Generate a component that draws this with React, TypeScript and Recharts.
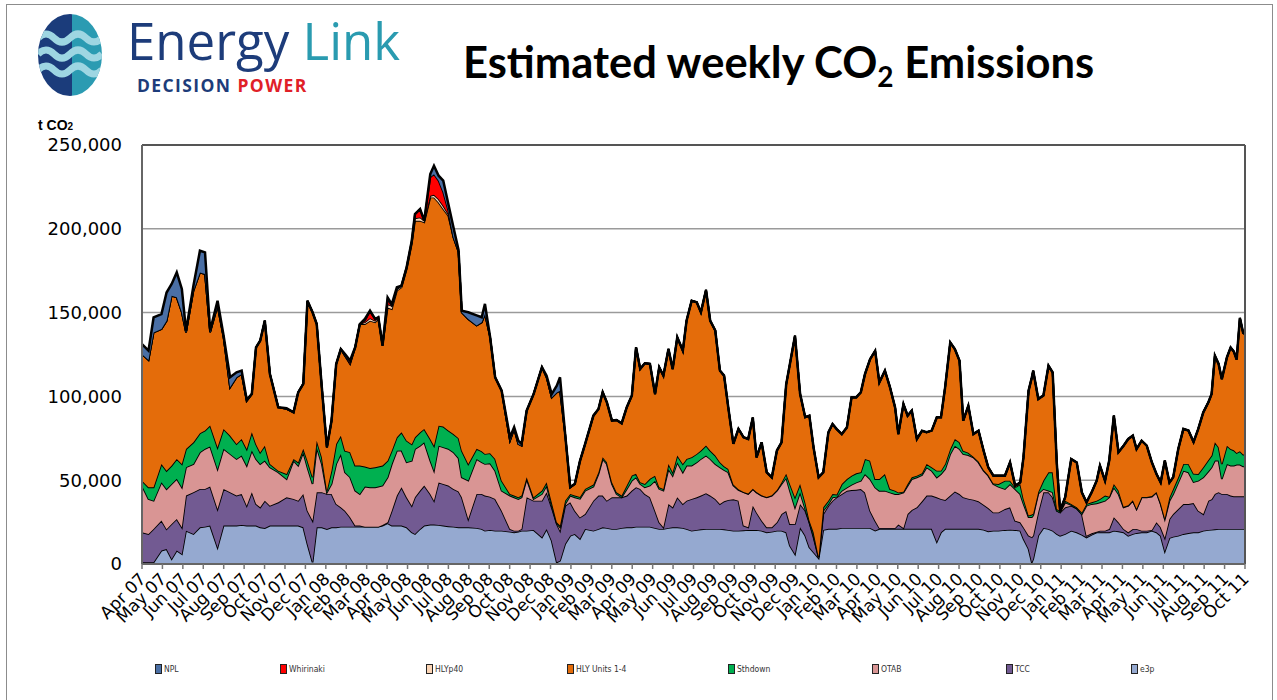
import React from 'react';
import { AreaChart, Area, XAxis, YAxis, CartesianGrid, ReferenceLine } from 'recharts';

// ---- Categories: week position since start of Apr 2007 ----
const weeks = [
  0, 1.4, 2.5, 4.2, 5.3, 6.4, 7.5, 8.6, 9.5, 11.1,
  12.5, 13.6, 14.7, 16.3, 17.6, 19.0, 20.4, 21.5, 22.6, 23.7,
  24.6, 25.5, 26.5, 27.6, 29.4, 31.2, 32.7, 33.7, 34.8, 35.7,
  36.8, 37.7, 38.8, 39.9, 40.9, 41.9, 42.9, 43.8, 44.9, 46.0,
  47.0,
  48.1, 49.2, 50.3, 51.0, 51.9, 53.0, 53.9, 55.0, 56.0, 57.1,
  58.2, 58.9, 60.0, 60.9, 62.2, 63.0, 64.0, 65.0, 66.1, 67.2,
  68.3, 69.0, 70.4, 72.2, 73.3, 74.0, 75.1, 76.2, 77.6, 79.4,
  80.3, 81.2, 81.9, 83.0, 84.5, 86.3, 87.3, 88.4, 89.5, 90.2,
  91.3, 92.4, 93.4, 94.5,
  95.6, 97.4, 98.5, 99.4, 100.3, 101.4, 102.4, 103.5, 104.6, 105.7,
  106.6, 107.5, 108.5, 109.6, 110.7, 111.6, 112.5, 113.6, 114.5, 115.5,
  116.7, 117.5, 118.6, 119.7, 120.6, 121.7, 122.6, 123.7, 124.7, 125.6,
  126.5, 127.6, 128.7, 129.8, 130.8, 131.8, 132.6, 133.7, 134.8, 135.9,
  137.0, 138.0, 139.0, 139.8, 140.9, 142.0,
  143.1, 144.0, 144.9, 146.0, 147.0, 148.1, 149.0, 149.9, 151.0, 152.1,
  153.1, 154.1, 155.1, 156.0, 157.1, 158.2, 159.1, 160.3, 161.4, 162.5,
  163.2, 164.3, 165.2, 166.1, 167.2, 168.3, 169.3, 170.4, 171.5, 172.4,
  173.3, 174.4, 175.4, 176.4, 177.2, 178.3, 179.4, 180.5, 181.6, 182.6,
  183.7, 184.8, 186.2, 187.3, 188.4, 189.5,
  190.2, 191.3, 192.0, 192.3, 193.4, 194.5, 195.6, 196.5, 197.4, 198.1,
  199.2, 200.5, 201.7, 202.8, 203.8, 204.9, 206.0, 206.7, 207.8, 208.7,
  209.7, 210.7, 211.8, 212.8, 213.8, 214.6, 215.7, 216.8, 217.9, 218.9,
  219.8, 220.7, 221.7, 222.5, 223.6, 224.7, 225.8, 226.9, 227.9, 229.0,
  230.1, 230.8, 231.5, 232.3, 233.0, 234.1, 234.9, 235.6, 236.2, 236.9,
  237.6, 238.0,
];

// ---- Tick labels ----
const monthLabels = [
  'Apr 07', 'May 07', 'Jun 07', 'Jul 07', 'Aug 07', 'Sep 07', 'Oct 07', 'Nov 07', 'Dec 07',
  'Jan 08', 'Feb 08', 'Mar 08', 'Apr 08', 'May 08', 'Jun 08', 'Jul 08', 'Aug 08', 'Sep 08', 'Oct 08', 'Nov 08', 'Dec 08',
  'Jan 09', 'Feb 09', 'Mar 09', 'Apr 09', 'May 09', 'Jun 09', 'Jul 09', 'Aug 09', 'Sep 09', 'Oct 09', 'Nov 09', 'Dec 09',
  'Jan 10', 'Feb 10', 'Mar 10', 'Apr 10', 'May 10', 'Jun 10', 'Jul 10', 'Aug 10', 'Sep 10', 'Oct 10', 'Nov 10', 'Dec 10',
  'Jan 11', 'Feb 11', 'Mar 11', 'Apr 11', 'May 11', 'Jun 11', 'Jul 11', 'Aug 11', 'Sep 11', 'Oct 11',
];
const yTicks = [0, 50000, 100000, 150000, 200000, 250000];

// ---- Series values (t CO2 per week) ----
const e3p = [
  1000, 1000, 1000, 8000, 8900, 3000, 8000, 6000, 19900, 17900,
  21900, 22300, 22900, 9900, 22900, 22900, 22900, 23300, 22900, 22900,
  22900, 21900, 21500, 22900, 22900, 22900, 22900, 22900, 21900, 11900,
  1000, 21900, 21900, 20900, 21900, 21900, 22300, 22300, 22300, 22300,
  22300,
  22300, 22300, 22300, 22300, 22900, 24300, 22900, 22900, 22900, 21900,
  18900, 17900, 20900, 22900, 23500, 23500, 23300, 22900, 22500, 22300,
  21900, 21900, 21900, 21500, 20900, 19900, 20300, 19900, 19900, 19300,
  18900, 19300, 19900, 19900, 20300, 15900, 20900, 13900, 1000, 2000,
  11900, 16900, 17900, 15000,
  20900, 19900, 20900, 21900, 21500, 20900, 20900, 21500, 21900, 21900,
  22300, 22300, 22300, 22300, 21500, 20900, 20900, 21500, 21900, 21900,
  21500, 20900, 19900, 20300, 20700, 20900, 20900, 20900, 20900, 20700,
  20300, 19900, 19900, 20100, 20300, 20300, 20300, 19900, 18900, 19300,
  19900, 19900, 18900, 10900, 6000, 21900,
  17000, 10000, 7000, 3500, 20300, 21000, 21000, 21000, 21500, 21500,
  21500, 21500, 21500, 21500, 21500, 20000, 21000, 21000, 21000, 21000,
  21000, 21000, 21000, 21000, 21000, 21000, 21000, 21000, 13300, 18900,
  21000, 21000, 21000, 21000, 21000, 21000, 21000, 21000, 20500, 19500,
  19900, 19900, 20300, 20500, 20300, 19900,
  15000, 9000, 1000, 3000, 17000, 21500, 20900, 19900, 17900, 16900,
  17900, 19900, 18900, 17500, 15900, 17500, 18900, 18900, 18900, 18900,
  19900, 19500, 18900, 16900, 17900, 18500, 18900, 18900, 19900, 18900,
  16900, 7600, 15500, 16300, 16900, 17900, 18500, 18900, 18900, 19900,
  20300, 20500, 20700, 20900, 20900, 20900, 20900, 20900, 20900, 20900,
  20900, 20900,
];

const tcc = [
  17900, 16900, 19900, 17900, 11900, 20900, 18900, 15900, 20900, 24900,
  22900, 22500, 23300, 22900, 21900, 19900, 17900, 18500, 11900, 19900,
  12900, 11900, 16300, 11900, 13900, 16900, 15900, 14900, 19900, 19900,
  24900, 20900, 20900, 20900, 19900, 13900, 11500, 9500, 5600, 600,
  600,
  0, 0, 0, 0, 400, 600, 8900, 17900, 22900, 17900,
  15900, 21900, 22900, 23900, 18300, 14300, 25400, 24900, 24300, 22500,
  21400, 17900, 5000, 20300, 20900, 20900, 19900, 18900, 11900, 1600,
  1000, 600, 1000, 19900, 17500, 21900, 21900, 19900, 22900, 17900,
  22900, 19900, 13900, 12800,
  8900, 17900, 19900, 18900, 16300, 18900, 18900, 18300, 18900, 21900,
  23500, 22500, 19500, 17500, 10300, 4000, 1000, 14300, 11900, 17900,
  14300, 16900, 18900, 19500, 20100, 21300, 19900, 17900, 14900, 16700,
  17900, 18700, 17900, 2800, 1600, 14500, 10500, 6000, 3000, 2600,
  5000, 9900, 12700, 12900, 17900, 13900,
  14900, 14900, 8900, 500, 9500, 13800, 16800, 18800, 20200, 22200,
  22600, 22800, 23200, 21200, 10300, 5800, 500, 500, 500, 500,
  2500, 500, 8800, 11200, 12800, 16400, 19800, 19800, 26500, 19900,
  17200, 19800, 22300, 20700, 18800, 18000, 17400, 16400, 14900, 13900,
  10900, 10900, 12500, 13300, 5500, 5000,
  7000, 8000, 15000, 14000, 14000, 21300, 21900, 19900, 13900, 13900,
  15900, 14900, 14300, 12300, 1000, 800, 400, 1000, 1000, 2000,
  8000, 5400, 2000, 2000, 3000, 2400, 1000, 1000, 400, 6000,
  5000, 8000, 11300, 13500, 15900, 17900, 17300, 17500, 12900, 9900,
  17500, 18100, 21100, 21900, 20900, 20900, 19900, 19500, 19500, 19500,
  19500, 19500,
];

const otab = [
  27800, 20900, 16900, 22900, 23900, 23900, 23900, 23900, 16900, 16900,
  21900, 23900, 23900, 23900, 23900, 22900, 21900, 22900, 23900, 24900,
  26800, 25800, 23900, 22900, 17900, 10900, 22900, 20900, 24900, 25800,
  21900, 26800, 16900, 1000, 6000, 23900, 31800, 22900, 23900, 20900,
  18900,
  23900, 23500, 23500, 23900, 23500, 26800, 27800, 26800, 21900, 20900,
  26800, 28800, 26800, 25800, 19900, 17900, 21900, 21900, 21900, 21900,
  19900, 11900, 22900, 20900, 18900, 18900, 19900, 16900, 11900, 19900,
  19900, 18900, 18900, 10900, 1000, 4000, 4000, 1000, 400, 2000,
  1000, 4000, 8000, 11200,
  13900, 8400, 12900, 21900, 21900, 8000, 2000, 0, 4000, 6000,
  6000, 3000, 4000, 7000, 17900, 19900, 21900, 20900, 18900, 20900,
  18900, 20900, 19900, 20900, 21900, 22500, 21900, 20900, 21900, 18700,
  16500, 8200, 6400, 19900, 19900, 9900, 11900, 14900, 17900, 18900,
  18900, 17900, 19900, 19900, 9900, 7000,
  1000, 0, 1000, 200, 2000, 1000, 2000, 400, 2000, 2000,
  3200, 4400, 5000, 11000, 18900, 19900, 22200, 22200, 21200, 20200,
  18200, 21200, 16900, 18500, 17900, 15700, 16900, 14900, 11900, 14900,
  18500, 24800, 27300, 26900, 25800, 26000, 25200, 23200, 20300, 19300,
  16900, 15300, 11900, 13900, 18900, 16800,
  14000, 11000, 12000, 12000, 11000, 2000, 1000, 3000, 0, 0,
  3000, 400, 0, 0, 17900, 17500, 16900, 16900, 17900, 18900,
  17900, 16900, 12900, 15900, 16900, 11900, 19900, 19900, 19900, 17900,
  13900, 11300, 10900, 11900, 15900, 19900, 18900, 12500, 17900, 21900,
  17500, 19100, 19900, 18900, 8900, 17900, 17900, 18300, 18900, 18900,
  17900, 17900,
];

const sthdown = [
  3000, 7000, 8000, 10900, 10900, 10900, 11900, 13900, 10900, 12900,
  11300, 10900, 12500, 12900, 11900, 10900, 8900, 9900, 9900, 10900,
  8900, 7000, 8900, 2000, 1000, 3000, 1000, 2000, 2000, 4000,
  4000, 4000, 4000, 1000, 8000, 11900, 10900, 12900, 14900, 14900,
  16900,
  11900, 11500, 11900, 11900, 11900, 9900, 8000, 8000, 10900, 12900,
  9900, 7000, 8000, 8000, 12900, 14900, 11900, 12300, 10900, 10900,
  11900, 15900, 9900, 6000, 6600, 6000, 6000, 7000, 6000, 1000,
  1000, 1000, 1000, 1000, 1000, 2000, 2000, 2000, 600, 1000,
  2000, 1000, 1000, 1000,
  1000, 1200, 1000, 1000, 1000, 1000, 1000, 1000, 2000, 3000,
  2000, 1000, 2000, 4000, 3000, 1000, 1000, 3000, 2000, 4000,
  5000, 4000, 5000, 5000, 5000, 6000, 5000, 5000, 3000, 2200,
  2000, 600, 400, 200, 200, 200, 200, 200, 200, 200,
  400, 1000, 2400, 4000, 6000, 5000,
  4000, 1000, 2000, 200, 2000, 2000, 1900, 1200, 4000, 5000,
  5400, 5400, 5000, 9000, 10900, 5000, 7000, 10000, 2000, 2000,
  1000, 400, 1000, 1000, 1000, 1000, 2000, 2000, 4000, 2000,
  3000, 3000, 4000, 4000, 2000, 1400, 400, 600, 400, 400,
  400, 1600, 5000, 2000, 1000, 6000,
  3000, 1000, 1500, 1000, 1000, 5000, 10900, 11900, 1000, 600,
  1000, 600, 600, 1000, 1000, 1000, 1600, 2000, 3000, 400,
  2000, 2000, 400, 200, 200, 200, 200, 200, 400, 200,
  400, 400, 2000, 3000, 3000, 4000, 5000, 5000, 4000, 6000,
  6800, 7000, 10900, 8000, 8900, 10900, 9900, 9100, 7000, 8000,
  7000, 7000,
];

const hlyUnits = [
  75500, 75900, 92400, 80500, 89500, 101400, 96400, 90500, 69600, 90500,
  96000, 93400, 55700, 84500, 54700, 28800, 39800, 38800, 28800, 22900,
  57700, 66600, 74600, 53700, 37800, 38800, 27800, 41700, 38800, 95400,
  98400, 69600, 41700, 25800, 29800, 47700, 51700, 56700, 52700, 70600,
  84500,
  85100, 87900, 86500, 88100, 71600, 91400, 84500, 87500, 86500, 102400,
  119300, 129200, 126200, 123300, 144100, 148100, 133200, 129800, 128200, 117300,
  111300, 82500, 86500, 73600, 76900, 83500, 69600, 48700, 53700, 31800,
  39800, 31800, 29800, 39800, 61600, 73600, 62600, 62600, 77500, 80500,
  39800, 4000, 7000, 21400,
  26800, 41100, 37800, 38800, 35800, 36800, 43100, 43100, 46700, 47700,
  75500, 67600, 72000, 68600, 48700, 71600, 67600, 68600, 61600, 70600,
  67600, 82500, 93400, 90500, 82500, 92800, 77500, 74600, 54700, 54100,
  36800, 24300, 36000, 32600, 32600, 42500, 20700, 31600, 14700, 10700,
  23500, 23900, 53300, 71600, 96400, 53700,
  50700, 62600, 50700, 47300, 20900, 40700, 41800, 39100, 29800, 30800,
  46700, 45300, 47700, 50600, 60600, 76500, 57700, 61600, 60700, 49700,
  34800, 52300, 40800, 39800, 21900, 25400, 18900, 21900, 31800, 31800,
  45800, 63600, 53600, 48700, 17900, 28000, 13500, 18300, 11500, 4600,
  4600, 5000, 3000, 10900, 1000, 1000,
  24600, 74400, 81800, 85300, 55400, 50700, 63600, 59600, 26800, 400,
  2000, 26800, 26800, 11900, 1000, 5900, 11900, 19900, 8900, 21500,
  40800, 22900, 36400, 39600, 38600, 35600, 33600, 30600, 20100, 10700,
  12500, 34400, 8900, 7000, 16900, 20900, 19900, 18900, 26800, 32800,
  34400, 36800, 51700, 49700, 50700, 52700, 60600, 58900, 55700, 79500,
  72600, 72000,
];

const hlyP40 = [
  0, 0, 0, 0, 0, 0, 0, 0, 0, 0,
  0, 0, 0, 0, 0, 0, 0, 0, 0, 0,
  0, 0, 0, 0, 0, 0, 0, 0, 0, 0,
  0, 0, 0, 0, 0, 0, 0, 0, 0, 0,
  0,
  1000, 1500, 1000, 1000, 0, 2000, 2000, 1000, 1000, 1000,
  1000, 1500, 2000, 1000, 1000, 1600, 2000, 2000, 1000, 0,
  0, 0, 0, 0, 0, 0, 0, 0, 0, 0,
  0, 0, 0, 0, 0, 0, 0, 0, 0, 0,
  0, 0, 0, 0,
  0, 0, 0, 0, 0, 0, 0, 0, 0, 0,
  0, 0, 0, 0, 0, 0, 0, 0, 0, 0,
  0, 0, 0, 0, 0, 0, 0, 0, 0, 0,
  0, 0, 0, 0, 0, 0, 0, 0, 0, 0,
  0, 0, 0, 0, 0, 0,
  0, 0, 0, 0, 0, 0, 0, 0, 0, 0,
  0, 0, 0, 0, 0, 0, 0, 0, 0, 0,
  0, 0, 0, 0, 0, 0, 0, 0, 0, 0,
  0, 0, 0, 0, 0, 0, 0, 0, 0, 0,
  0, 0, 0, 0, 0, 0,
  0, 0, 0, 0, 0, 0, 0, 0, 0, 0,
  0, 0, 0, 0, 0, 0, 0, 0, 0, 0,
  0, 0, 0, 0, 0, 0, 0, 0, 0, 0,
  0, 0, 0, 0, 0, 0, 0, 0, 0, 0,
  0, 0, 0, 0, 0, 0, 0, 0, 0, 0,
  0, 0,
];

const whirinaki = [
  0, 0, 0, 0, 0, 0, 0, 0, 0, 0,
  0, 0, 0, 0, 0, 0, 0, 0, 0, 0,
  0, 0, 0, 0, 0, 0, 0, 0, 0, 0,
  0, 0, 0, 0, 0, 0, 0, 0, 1000, 0,
  0,
  1000, 4000, 1000, 0, 0, 3000, 0, 0, 0, 0,
  1000, 2500, 5000, 0, 11000, 12300, 11000, 8000, 2000, 0,
  0, 0, 0, 0, 0, 0, 0, 0, 0, 0,
  0, 0, 0, 0, 0, 0, 0, 0, 0, 0,
  0, 0, 0, 0,
  0, 0, 0, 0, 0, 0, 0, 0, 0, 0,
  0, 0, 0, 0, 0, 0, 0, 0, 0, 0,
  0, 0, 0, 0, 0, 0, 0, 0, 0, 0,
  0, 0, 0, 0, 0, 0, 0, 0, 0, 0,
  0, 0, 0, 0, 0, 0,
  0, 0, 0, 0, 0, 0, 0, 0, 0, 0,
  0, 0, 0, 0, 0, 0, 0, 0, 0, 0,
  0, 0, 0, 0, 0, 0, 0, 0, 0, 0,
  0, 0, 0, 0, 0, 0, 0, 0, 0, 0,
  0, 0, 0, 0, 0, 0,
  0, 0, 0, 0, 0, 0, 0, 0, 0, 0,
  0, 0, 0, 0, 0, 0, 0, 0, 0, 0,
  0, 0, 0, 0, 0, 0, 0, 0, 0, 0,
  0, 0, 0, 0, 0, 0, 0, 0, 0, 0,
  0, 0, 0, 0, 0, 0, 0, 0, 0, 0,
  0, 0,
];

const npl = [
  6000, 5600, 8900, 8900, 16900, 7000, 14900, 13900, 1000, 3000,
  12900, 12900, 1000, 3000, 1000, 6000, 3000, 2000, 400, 0,
  0, 0, 0, 0, 0, 400, 0, 0, 0, 0,
  0, 0, 0, 0, 0, 0, 0, 1000, 1000, 0,
  0,
  1000, 500, 0, 0, 0, 1000, 1000, 1000, 0, 0,
  0, 0, 0, 0, 2000, 5000, 3000, 7000, 4000, 6000,
  1000, 1000, 4000, 6000, 3000, 6000, 0, 0, 0, 2000,
  1000, 2000, 1000, 0, 0, 0, 1000, 2000, 4000, 8000,
  0, 0, 0, 0,
  0, 0, 0, 0, 0, 0, 0, 0, 0, 0,
  0, 0, 0, 0, 0, 0, 0, 0, 0, 0,
  0, 0, 0, 0, 0, 0, 0, 0, 0, 0,
  0, 0, 0, 0, 0, 0, 0, 0, 0, 0,
  0, 0, 0, 0, 0, 0,
  0, 0, 0, 0, 0, 0, 0, 0, 0, 0,
  0, 0, 0, 0, 0, 0, 0, 0, 0, 0,
  0, 0, 0, 0, 0, 0, 0, 0, 0, 0,
  0, 0, 0, 0, 0, 0, 0, 0, 0, 0,
  0, 0, 0, 0, 0, 0,
  0, 0, 0, 0, 0, 0, 0, 0, 0, 0,
  0, 0, 0, 0, 0, 0, 0, 0, 0, 0,
  0, 0, 0, 0, 0, 0, 0, 0, 0, 0,
  0, 0, 0, 0, 0, 0, 0, 0, 0, 0,
  0, 0, 0, 0, 0, 0, 0, 0, 0, 0,
  0, 0,
];

// ---- Series definitions (stack bottom -> top) ----
const seriesDefs = [
  { key: 'e3p', name: 'e3p', color: '#95A9D0', values: e3p },
  { key: 'tcc', name: 'TCC', color: '#725A92', values: tcc },
  { key: 'otab', name: 'OTAB', color: '#D99594', values: otab },
  { key: 'sthdown', name: 'Sthdown', color: '#00B050', values: sthdown },
  { key: 'hlyUnits', name: 'HLY Units 1-4', color: '#E46C0A', values: hlyUnits },
  { key: 'hlyP40', name: 'HLYp40', color: '#FCD5B5', values: hlyP40 },
  { key: 'whirinaki', name: 'Whirinaki', color: '#FF0000', values: whirinaki },
  { key: 'npl', name: 'NPL', color: '#4A6FA5', values: npl },
];

const TOTAL_WEEKS = 238;
const data = weeks.map((w, i) => {
  const row: Record<string, number> = { week: w };
  seriesDefs.forEach((s) => {
    row[s.key] = s.values[i] ?? 0;
  });
  return row;
});

const monthTicks = monthLabels.map((_, i) => (i * TOTAL_WEEKS) / (monthLabels.length - 1));

const legendOrder = ['npl', 'whirinaki', 'hlyP40', 'hlyUnits', 'sthdown', 'otab', 'tcc', 'e3p'];
const legendX = [155, 280, 426, 567, 728, 872, 1006, 1131];

const fmt = (v: number) => v.toLocaleString('en-US');

function MonthTick(props: any) {
  const { x, y, payload } = props;
  const idx = Math.round((payload.value * (monthLabels.length - 1)) / TOTAL_WEEKS);
  const tx = x + 5;
  const ty = y + 9;
  return (
    <text
      x={tx}
      y={ty}
      transform={`rotate(-45 ${tx} ${ty})`}
      textAnchor="end"
      fontFamily="'DejaVu Sans', sans-serif"
      fontSize={17}
      fill="#000"
    >
      {monthLabels[idx]}
    </text>
  );
}

function Logo() {
  const waves = [30, 46, 62];
  return (
    <svg width={80} height={96} style={{ position: 'absolute', left: 30, top: 8 }}>
      <defs>
        <clipPath id="logoClip">
          <ellipse cx={40} cy={47} rx={32} ry={41} />
        </clipPath>
      </defs>
      <g clipPath="url(#logoClip)">
        <rect x={0} y={0} width={42} height={96} fill="#1B3C7B" />
        <rect x={42} y={0} width={40} height={96} fill="#2B9BB2" />
        {waves.map((wy) => (
          <path
            key={wy}
            d={`M 8 ${wy} q 8 -8 16 0 t 16 0 t 16 0 t 16 0`}
            stroke="#9ED6E2"
            strokeWidth={7}
            fill="none"
          />
        ))}
      </g>
    </svg>
  );
}

export default function App() {
  return (
    <div
      style={{
        position: 'absolute',
        left: 0,
        top: 0,
        width: 1277,
        height: 700,
        background: '#fff',
        overflow: 'hidden',
      }}
    >
      <div
        style={{
          position: 'absolute',
          left: 6,
          top: 4,
          width: 1267,
          height: 710,
          border: '1px solid #8c8c8c',
          boxSizing: 'border-box',
        }}
      />
      <Logo />
      <div
        style={{
          position: 'absolute',
          left: 127,
          top: 8,
          fontFamily: "'Open Sans', sans-serif",
          fontSize: 51,
          lineHeight: '64px',
          whiteSpace: 'nowrap',
        }}
      >
        <span style={{ color: '#1D3C7A' }}>Energy</span>{' '}
        <span style={{ color: '#2A9BB0' }}>Link</span>
      </div>
      <div
        style={{
          position: 'absolute',
          left: 137,
          top: 74,
          fontFamily: "'Open Sans', sans-serif",
          fontWeight: 700,
          fontSize: 17.5,
          lineHeight: '22px',
          whiteSpace: 'nowrap',
          letterSpacing: 1.4,
        }}
      >
        <span style={{ color: '#1D3C7A' }}>DECISION</span>{' '}
        <span style={{ color: '#E02027' }}>POWER</span>
      </div>
      <div
        style={{
          position: 'absolute',
          left: 463,
          top: 34,
          fontFamily: "Lato, sans-serif",
          fontWeight: 700,
          fontSize: 43.5,
          lineHeight: '54px',
          whiteSpace: 'nowrap',
          color: '#000',
        }}
      >
        Estimated weekly CO
        <span style={{ fontSize: 28, position: 'relative', top: 9 }}>2</span> Emissions
      </div>
      <div
        style={{
          position: 'absolute',
          left: 38,
          top: 117,
          fontFamily: "'Liberation Sans', Arial, sans-serif",
          fontWeight: 700,
          fontSize: 14,
          whiteSpace: 'nowrap',
          color: '#000',
        }}
      >
        t CO<span style={{ fontSize: 10 }}>2</span>
      </div>

      <div style={{ position: 'absolute', left: 0, top: 0 }}>
        <AreaChart
          width={1277}
          height={700}
          data={data}
          margin={{ top: 145, right: 32, bottom: 0, left: 8 }}
        >
          <CartesianGrid vertical={false} stroke="#9a9a9a" strokeWidth={1.5} />
          <XAxis
            dataKey="week"
            type="number"
            domain={[0, TOTAL_WEEKS]}
            ticks={monthTicks}
            interval={0}
            height={136}
            tick={<MonthTick />}
            tickSize={5}
            tickMargin={2}
            tickLine={{ stroke: '#777', strokeWidth: 1.5 }}
            axisLine={{ stroke: '#666', strokeWidth: 2 }}
            allowDecimals
          />
          <YAxis
            domain={[0, 250000]}
            ticks={yTicks}
            interval={0}
            width={134}
            tickFormatter={fmt}
            tickLine={false}
            tickSize={0}
            tickMargin={20}
            axisLine={{ stroke: '#666', strokeWidth: 2 }}
            tick={{ fill: '#000', fontSize: 18, fontFamily: "'DejaVu Sans', sans-serif" }}
          />
          {seriesDefs.map((s) => (
            <Area
              key={s.key}
              type="linear"
              dataKey={s.key}
              name={s.name}
              stackId="1"
              stroke="#000"
              strokeWidth={s.key === 'npl' ? 2.5 : 1.8}
              fill={s.color}
              fillOpacity={1}
              dot={false}
              activeDot={false}
              isAnimationActive={false}
            />
          ))}
          <ReferenceLine y={250000} stroke="#555" strokeWidth={2} />
          <ReferenceLine x={TOTAL_WEEKS} stroke="#555" strokeWidth={2} />
        </AreaChart>
      </div>

      {legendOrder.map((k, i) => {
        const s = seriesDefs.find((d) => d.key === k)!;
        return (
          <div
            key={k}
            style={{
              position: 'absolute',
              left: legendX[i],
              top: 664,
              display: 'flex',
              alignItems: 'center',
              whiteSpace: 'nowrap',
            }}
          >
            <div
              style={{
                width: 5,
                height: 8,
                background: s.color,
                border: '1px solid #222',
                marginRight: 2,
              }}
            />
            <span
              style={{
                fontFamily: "'DejaVu Sans Condensed', 'DejaVu Sans', sans-serif",
                fontSize: 8.5,
                color: '#333',
              }}
            >
              {s.name}
            </span>
          </div>
        );
      })}
    </div>
  );
}
